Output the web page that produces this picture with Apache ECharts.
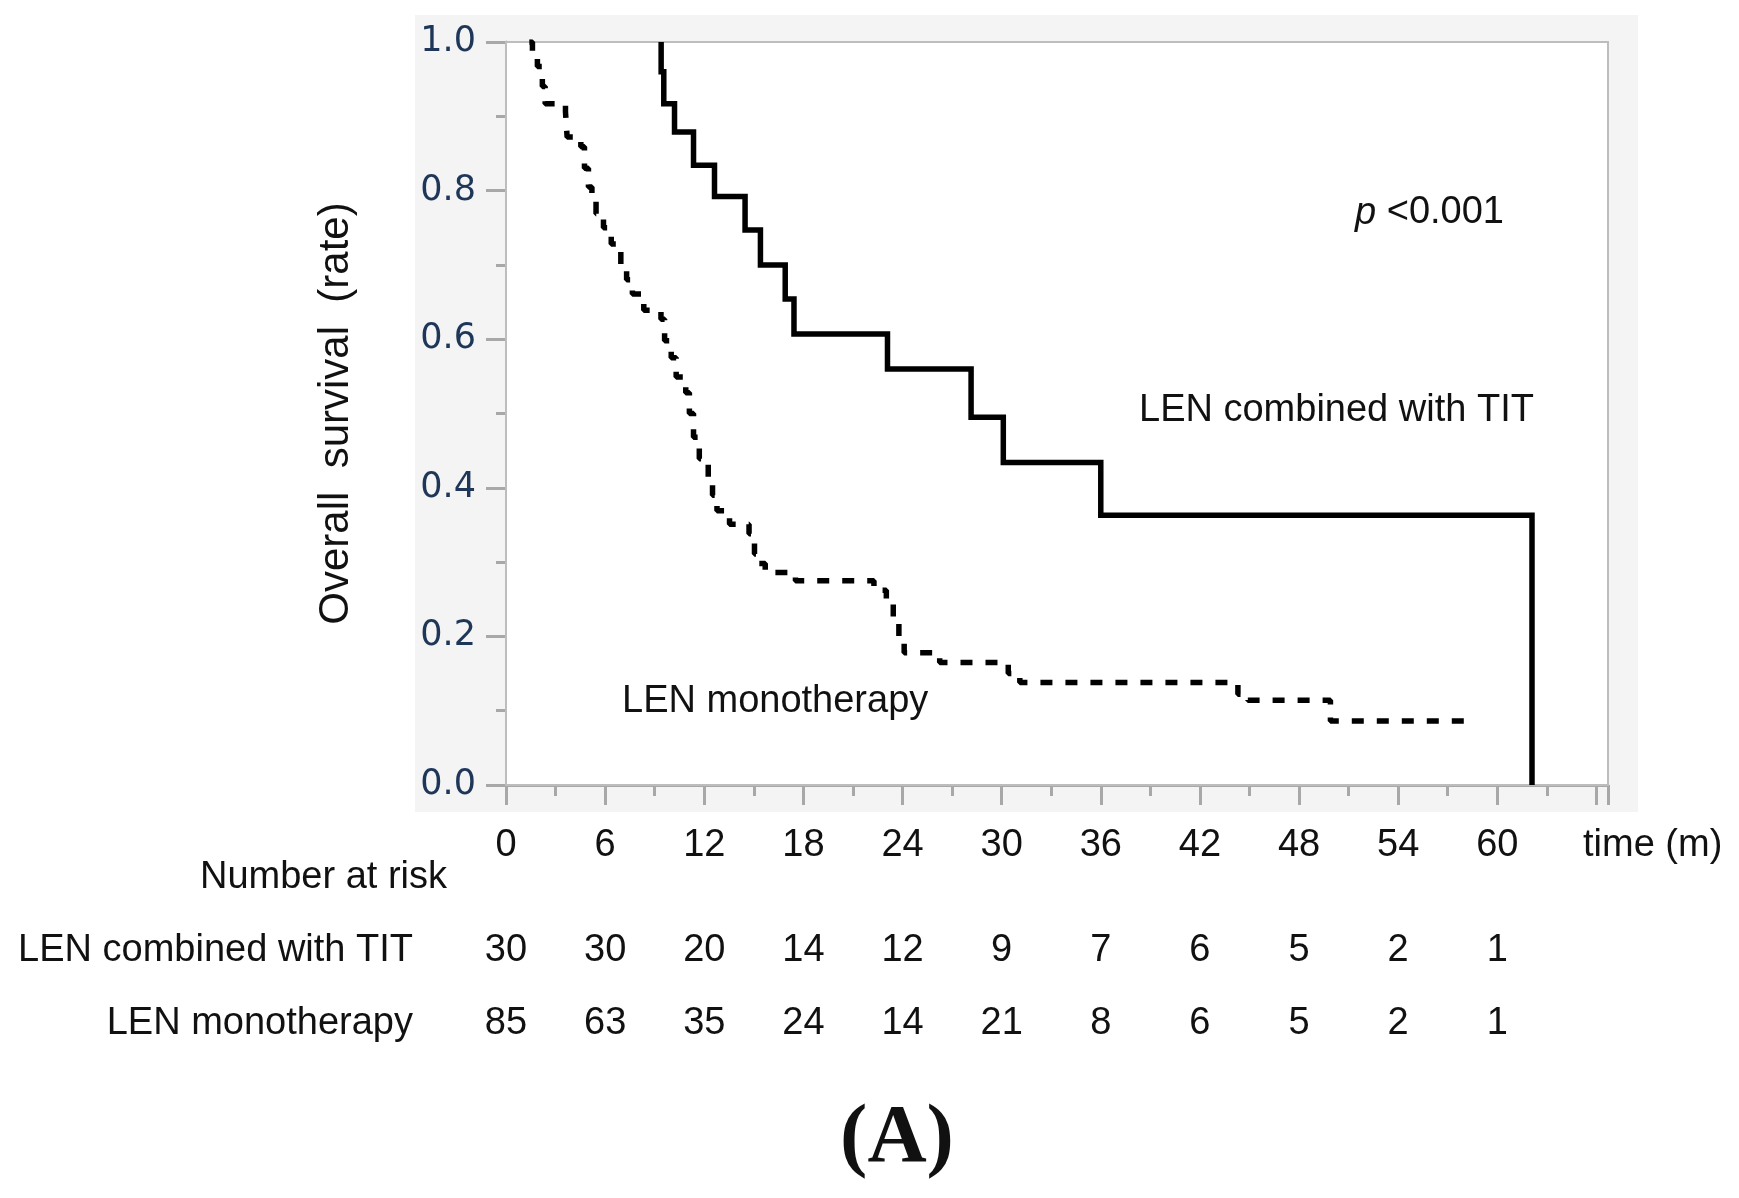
<!DOCTYPE html>
<html>
<head>
<meta charset="utf-8">
<script src="https://cdn.jsdelivr.net/npm/echarts@6/dist/echarts.min.js"></script>
<style>
html,body{margin:0;padding:0;background:#fff;}
#chart{width:1739px;height:1198px;}
</style>
</head>
<body>
<div id="chart"></div>
<script>
// ---- data ----
var combinedCurve = [
  [9.39, 1.0], [9.39, 0.960], [9.55, 0.917], [10.2, 0.879], [11.35, 0.834],
  [12.62, 0.792], [14.47, 0.747], [15.4, 0.700], [16.9, 0.654], [17.43, 0.607],
  [23.09, 0.560], [28.15, 0.495], [30.1, 0.434], [36.0, 0.363], [62.1, 0.0]
];
var monoCurve = [
  [1.41, 1.0], [1.6, 0.985], [1.9, 0.967], [2.2, 0.94], [2.37, 0.917], [3.6, 0.906],
  [3.7, 0.872], [4.53, 0.859], [4.75, 0.83], [4.99, 0.805], [5.2, 0.787], [5.45, 0.769],
  [5.9, 0.75], [6.37, 0.728], [6.95, 0.697], [7.3, 0.68], [7.65, 0.661], [8.34, 0.639],
  [9.38, 0.627], [9.6, 0.598], [10.0, 0.575], [10.3, 0.549], [10.88, 0.528], [11.1, 0.50],
  [11.35, 0.468], [11.7, 0.439], [12.24, 0.414], [12.5, 0.39], [12.77, 0.369], [13.53, 0.351],
  [14.71, 0.338], [15.04, 0.311], [15.3, 0.298], [15.69, 0.286], [17.52, 0.275], [22.27, 0.262],
  [23.02, 0.248], [23.44, 0.225], [23.78, 0.198], [24.1, 0.178], [26.25, 0.165], [30.4, 0.150],
  [31.1, 0.138], [44.3, 0.122], [44.9, 0.114], [49.9, 0.086], [58.7, 0.086]
];
var riskTimes = [0, 6, 12, 18, 24, 30, 36, 42, 48, 54, 60];
var riskCombined = [30, 30, 20, 14, 12, 9, 7, 6, 5, 2, 1];
var riskMono = [85, 63, 35, 24, 14, 21, 8, 6, 5, 2, 1];
var rowNames = ['LEN monotherapy', 'LEN combined with TIT', 'Number at risk'];
var seriesNames = ['LEN combined with TIT', 'LEN monotherapy'];
var yTitle = 'Overall  survival  (rate)';
var xTitle = 'time (m)';
var pText = '{i|p} <0.001';
var panelLabel = '(A)';

// ---- build ----
var SANS = '"Liberation Sans", Arial, sans-serif';
var TXT = '#111';
var xMax = 66.7;

var riskData = [];
riskTimes.forEach(function (t, i) {
  riskData.push([t, rowNames[1], riskCombined[i]]);
  riskData.push([t, rowNames[0], riskMono[i]]);
});

var chart = echarts.init(document.getElementById('chart'), null, {renderer: 'canvas'});
chart.setOption({
  animation: false,
  backgroundColor: '#ffffff',
  grid: [
    {left: 506, top: 42, width: 1102, height: 743, show: true, backgroundColor: '#ffffff',
     borderColor: '#bdbdbd', borderWidth: 2, z: 1},
    {left: 506, top: 841, width: 1102, height: 219}
  ],
  xAxis: [
    {type: 'value', gridIndex: 0, min: 0, max: xMax, interval: 6,
     name: xTitle, nameLocation: 'end', nameGap: -25,
     nameTextStyle: {fontFamily: SANS, fontSize: 38, color: TXT, verticalAlign: 'top', align: 'left', padding: [42, 0, 0, 0]},
     axisLine: {show: true, lineStyle: {color: '#a8a8a8', width: 3}},
     axisTick: {show: true, inside: false, length: 20, lineStyle: {color: '#a8a8a8', width: 3}},
     minorTick: {show: true, splitNumber: 2, length: 11, lineStyle: {color: '#a8a8a8', width: 3}},
     splitLine: {show: false},
     axisLabel: {margin: 42, fontFamily: SANS, fontSize: 38, color: TXT,
       formatter: function (v) { return (v % 6 === 0 && v <= 60) ? String(v) : ''; }}
    },
    {type: 'value', gridIndex: 1, min: 0, max: xMax, show: false}
  ],
  yAxis: [
    {type: 'value', gridIndex: 0, min: 0, max: 1, interval: 0.2,
     name: yTitle, nameLocation: 'middle', nameGap: 149,
     nameTextStyle: {fontFamily: SANS, fontSize: 42, color: TXT},
     axisLine: {show: true, lineStyle: {color: '#a8a8a8', width: 3}},
     axisTick: {show: true, inside: false, length: 20, lineStyle: {color: '#a8a8a8', width: 3}},
     minorTick: {show: true, splitNumber: 2, length: 10, lineStyle: {color: '#a8a8a8', width: 3}},
     splitLine: {show: false},
     axisLabel: {margin: 30, fontFamily: '"DejaVu Sans", Verdana, sans-serif', fontSize: 35, color: '#1e3658',
       formatter: function (v) { return v.toFixed(1); }}
    },
    {type: 'category', gridIndex: 1, data: rowNames, inverse: false,
     axisLine: {show: false}, axisTick: {show: false}, splitLine: {show: false},
     axisLabel: {margin: 59, fontFamily: SANS, fontSize: 38, color: TXT,
       formatter: function (v) { return v === rowNames[2] ? '{a|' + v + '}' : '{b|' + v + '}'; },
       rich: {a: {fontFamily: SANS, fontSize: 38, color: TXT},
              b: {fontFamily: SANS, fontSize: 38, color: TXT, padding: [0, 34, 0, 0]}}}
    }
  ],
  series: [
    {name: seriesNames[0], type: 'line', xAxisIndex: 0, yAxisIndex: 0, step: 'end',
     data: combinedCurve, showSymbol: false, symbol: 'none', z: 5,
     lineStyle: {color: '#000', width: 5.5, cap: 'butt', join: 'miter'}},
    {name: seriesNames[1], type: 'line', xAxisIndex: 0, yAxisIndex: 0, step: 'end',
     data: monoCurve, showSymbol: false, symbol: 'none', z: 4,
     lineStyle: {color: '#000', width: 5.5, type: [12, 13], cap: 'butt'}},
    {name: 'risk', type: 'scatter', xAxisIndex: 1, yAxisIndex: 1, data: riskData,
     symbolSize: 0, itemStyle: {color: '#ffffff', opacity: 1},
     label: {show: true, position: [0, 0], align: 'center', verticalAlign: 'middle',
       fontFamily: SANS, fontSize: 38, color: '#111111', opacity: 1,
       formatter: function (p) { return String(p.value[2]); }}}
  ],
  graphic: [
    {type: 'rect', z: -100, shape: {x: 415, y: 15, width: 1223, height: 797},
     style: {fill: '#f4f4f4'}},
    {type: 'text', z: 10, x: 1355, y: 213,
     style: {text: pText, fontFamily: SANS, fontSize: 38, fill: TXT, align: 'left', verticalAlign: 'middle',
       rich: {i: {fontStyle: 'italic', fontFamily: SANS, fontSize: 38, fill: TXT}}}},
    {type: 'text', z: 10, x: 1139, y: 411,
     style: {text: seriesNames[0], fontFamily: SANS, fontSize: 38, fill: TXT, align: 'left', verticalAlign: 'middle'}},
    {type: 'text', z: 10, x: 622, y: 702,
     style: {text: seriesNames[1], fontFamily: SANS, fontSize: 38, fill: TXT, align: 'left', verticalAlign: 'middle'}},
    {type: 'text', z: 10, x: 897, y: 1140,
     style: {text: panelLabel, fontFamily: '"Liberation Serif", "Times New Roman", serif', fontWeight: 'bold',
       fontSize: 82, fill: '#111', align: 'center', verticalAlign: 'middle'}}
  ]
});
</script>
</body>
</html>
